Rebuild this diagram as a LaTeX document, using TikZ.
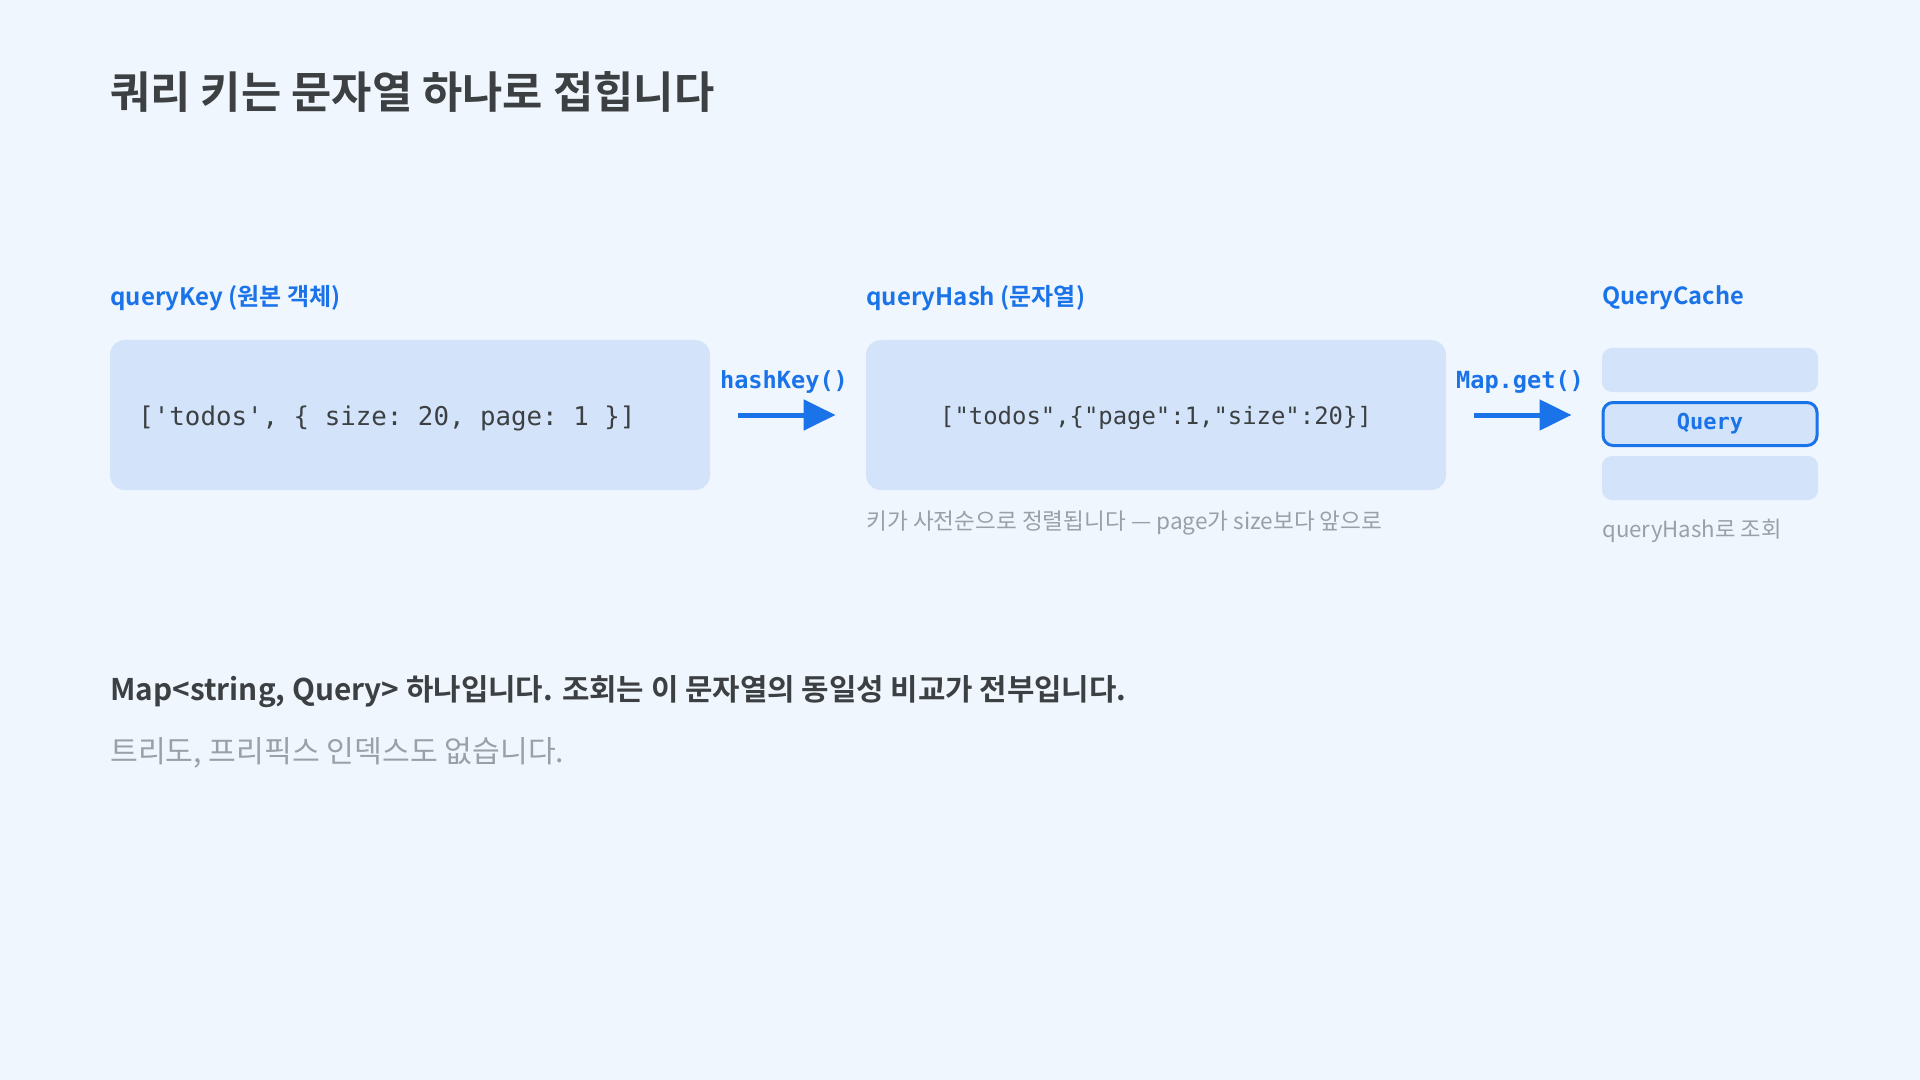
\documentclass[tikz,border=0pt]{standalone}
\usepackage{fontspec}
\setmainfont{Noto Sans CJK KR}[BoldFont={Noto Sans CJK KR Bold}]
\setmonofont{DejaVu Sans Mono}
\usetikzlibrary{arrows.meta}
\definecolor{bgc}{HTML}{F0F6FE}
\definecolor{boxc}{HTML}{D3E4FA}
\definecolor{bluec}{HTML}{1A73E8}
\definecolor{darkc}{HTML}{3C4043}
\definecolor{grayc}{HTML}{9AA0A6}
\tikzset{
  plainbox/.style={fill=boxc, draw=none, rounded corners=7.5pt, inner sep=0pt},
  stackbox/.style={fill=boxc, draw=none, rounded corners=5pt, inner sep=0pt, minimum width=108pt, minimum height=22pt},
  ttl/.style={anchor=west, inner sep=0pt, text=darkc, font=\fontsize{21.9}{26}\selectfont\bfseries},
  lbl/.style={anchor=west, inner sep=0pt, text=bluec, font=\fontsize{12}{14}\selectfont\bfseries},
  codetxt/.style={inner sep=0pt, text=darkc, font=\fontsize{12.9}{15}\selectfont\ttfamily},
  fntxt/.style={inner sep=0pt, text=bluec, font=\fontsize{11.8}{14}\selectfont\ttfamily\bfseries},
  captxt/.style={anchor=west, inner sep=0pt, text=grayc, font=\fontsize{11.3}{13}\selectfont},
  arr/.style={draw=bluec, line width=2.5pt, -{Triangle[length=16pt,width=15pt]}},
}
\begin{document}
\begin{tikzpicture}[x=0.5pt,y=-0.5pt]
\useasboundingbox[fill=bgc] (0,0) rectangle (1920,1080);

\node[ttl] (t) at (110,92) {쿼리 키는 문자열 하나로 접힙니다};

\node[lbl] (l1) at (110,298) {queryKey (원본 객체)};
\node[lbl] (l2) at (866,298) {queryHash (문자열)};
\node[lbl, font=\fontsize{11.8}{14}\selectfont\bfseries] (l3) at (1602,298) {QueryCache};

\node[plainbox, minimum width=300pt, minimum height=75pt] (k) at (410,415) {};
\node[codetxt, anchor=west] (kt) at (138,418) {['todos', \{ size: 20, page: 1 \}]};

\node[plainbox, minimum width=290pt, minimum height=75pt] (h) at (1156,415) {};
\node[codetxt, font=\fontsize{11.95}{15}\selectfont\ttfamily] (ht) at (1156,418) {["todos",\{"page":1,"size":20\}]};
\node[captxt] (hc) at (866,523) {키가 사전순으로 정렬됩니다 — page가 size보다 앞으로};

\node[stackbox] (s1) at (1710,370) {};
\node[stackbox, draw=bluec, line width=1.5pt, minimum width=107pt, minimum height=21.5pt, text=bluec, font=\fontsize{11}{13}\selectfont\ttfamily\bfseries] (q) at (1710,424) {\raisebox{-2.4pt}{Query}};
\node[stackbox] (s3) at (1710,478) {};
\node[captxt, font=\fontsize{11.1}{13}\selectfont] (qc) at (1602,531) {queryHash로 조회};

\node[fntxt] (f1) at (784,382) {hashKey()};
\node[fntxt] (f2) at (1520,382) {Map.get()};
\draw[arr] ([xshift=14pt]k.east) -- ([xshift=-15pt]h.west);
\draw[arr] ([xshift=14pt]h.east) -- ([xshift=-15pt]q.west |- h.east);

\node[anchor=west, inner sep=0pt, text=darkc, font=\fontsize{14.9}{18}\selectfont\bfseries] (b1) at (110,692) {Map<string, Query> 하나입니다. 조회는 이 문자열의 동일성 비교가 전부입니다.};
\node[anchor=west, inner sep=0pt, text=grayc, font=\fontsize{15.1}{18}\selectfont] (b2) at (110,753) {트리도, 프리픽스 인덱스도 없습니다.};
\end{tikzpicture}
\end{document}
